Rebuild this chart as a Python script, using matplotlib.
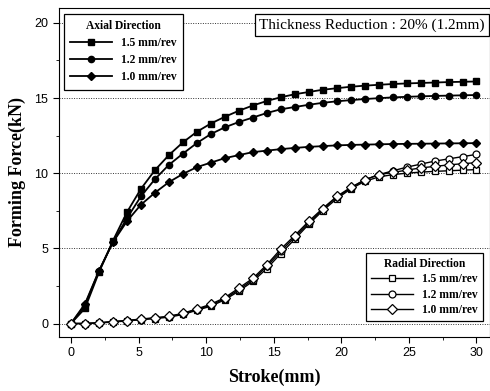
import matplotlib
matplotlib.use("Agg")
import matplotlib.pyplot as plt
from matplotlib.ticker import MultipleLocator

# stroke positions (mm), 30 samples over 0..30
stroke = [0.0, 1.03, 2.07, 3.10, 4.14, 5.17, 6.21, 7.24, 8.28, 9.31,
          10.34, 11.38, 12.41, 13.45, 14.48, 15.52, 16.55, 17.59, 18.62, 19.66,
          20.69, 21.72, 22.76, 23.79, 24.83, 25.86, 26.90, 27.93, 28.97, 30.0]

# axial direction forces (kN)
axial_15 = [0, 1.0, 3.4, 5.5, 7.4, 8.95, 10.2, 11.2, 12.05, 12.75,
            13.3, 13.75, 14.15, 14.5, 14.8, 15.05, 15.25, 15.4, 15.55, 15.65,
            15.75, 15.82, 15.88, 15.93, 15.97, 16.0, 16.03, 16.06, 16.08, 16.1]
axial_12 = [0, 1.2, 3.5, 5.4, 7.0, 8.45, 9.6, 10.55, 11.3, 12.0,
            12.6, 13.05, 13.4, 13.7, 14.0, 14.25, 14.4, 14.55, 14.68, 14.78,
            14.86, 14.93, 14.99, 15.04, 15.08, 15.11, 15.14, 15.16, 15.18, 15.2]
axial_10 = [0, 1.3, 3.5, 5.4, 6.8, 7.9, 8.7, 9.4, 9.95, 10.4,
            10.7, 11.0, 11.2, 11.4, 11.5, 11.6, 11.68, 11.75, 11.8, 11.85,
            11.88, 11.9, 11.92, 11.94, 11.95, 11.96, 11.97, 11.98, 11.99, 12.0]

# radial direction forces (kN)
radial_15 = [0, 0, 0.03, 0.1, 0.17, 0.25, 0.33, 0.42, 0.6, 0.88,
             1.15, 1.58, 2.15, 2.8, 3.65, 4.65, 5.6, 6.6, 7.5, 8.3,
             8.95, 9.45, 9.75, 9.9, 10.0, 10.07, 10.12, 10.16, 10.2, 10.24]
radial_12 = [0, 0, 0.04, 0.12, 0.19, 0.28, 0.36, 0.46, 0.65, 0.93,
             1.22, 1.65, 2.25, 2.9, 3.8, 4.8, 5.75, 6.7, 7.6, 8.4,
             9.0, 9.55, 9.9, 10.15, 10.4, 10.6, 10.8, 10.95, 11.1, 11.25]
radial_10 = [0, 0, 0.05, 0.13, 0.2, 0.3, 0.38, 0.48, 0.68, 0.97,
             1.28, 1.72, 2.35, 3.0, 3.9, 4.95, 5.85, 6.8, 7.65, 8.45,
             9.05, 9.55, 9.9, 10.05, 10.2, 10.35, 10.45, 10.55, 10.63, 10.7]

feeds = ["1.5 mm/rev", "1.2 mm/rev", "1.0 mm/rev"]

serif = ["Liberation Serif", "DejaVu Serif"]
sans = ["Liberation Sans", "DejaVu Sans"]

fig = plt.figure(figsize=(4.9, 3.91), dpi=100)
ax = fig.add_axes([0.12, 0.138, 0.88, 0.842])

# axial curves: filled markers
ax_lines = []
for vals, mk in zip([axial_15, axial_12, axial_10], ["s", "o", "D"]):
    l, = ax.plot(stroke, vals, color="black", lw=1.3, marker=mk, ms=4.5,
                 mfc="black", mec="black")
    ax_lines.append(l)

# radial curves: open markers
rad_lines = []
for vals, mk, ms in zip([radial_15, radial_12, radial_10], ["s", "o", "D"], [4.5, 5, 4.6]):
    l, = ax.plot(stroke, vals, color="black", lw=1.0, marker=mk, ms=ms,
                 mfc="white", mec="black", mew=0.9)
    rad_lines.append(l)

ax.set_xlim(-0.9, 31)
ax.set_ylim(-0.9, 21)
ax.xaxis.set_major_locator(MultipleLocator(5))
ax.xaxis.set_minor_locator(MultipleLocator(2.5))
ax.yaxis.set_major_locator(MultipleLocator(5))
ax.yaxis.set_minor_locator(MultipleLocator(2.5))
ax.tick_params(which="both", direction="out", top=False, right=False)
ax.tick_params(which="major", length=4, labelsize=9)
ax.tick_params(which="minor", length=2.5)
for lab in ax.get_xticklabels() + ax.get_yticklabels():
    lab.set_family(sans)

ax.yaxis.grid(True, which="major", linestyle=(0, (1, 1.5)), color="#333333", lw=0.7)
ax.set_axisbelow(True)

ax.set_xlabel("Stroke(mm)", family=serif, fontweight="bold", fontsize=13, labelpad=7)
ax.set_ylabel("Forming Force(kN)", family=serif, fontweight="bold", fontsize=13, labelpad=6)

leg_font = {"family": serif, "weight": "bold", "size": 8.3}
leg1 = ax.legend(ax_lines, feeds, title="Axial Direction", loc="upper left",
                 bbox_to_anchor=(-0.002, 1.0), prop=leg_font,
                 title_fontproperties=leg_font, fancybox=False, framealpha=1,
                 edgecolor="black", handlelength=3.6, labelspacing=0.45,
                 borderpad=0.55)
leg1.get_frame().set_linewidth(0.9)
ax.add_artist(leg1)

leg2 = ax.legend(rad_lines, feeds, title="Radial Direction", loc="lower right",
                 bbox_to_anchor=(0.997, 0.03), prop=leg_font,
                 title_fontproperties=leg_font, fancybox=False, framealpha=1,
                 edgecolor="black", handlelength=3.6, labelspacing=0.3,
                 borderpad=0.45)
leg2.get_frame().set_linewidth(0.9)

ax.text(0.988, 0.968, "Thickness Reduction : 20% (1.2mm)", transform=ax.transAxes,
        ha="right", va="top", family=serif, fontsize=11,
        bbox=dict(boxstyle="square,pad=0.3", fc="white", ec="black", lw=0.9))

fig.savefig("out.png", dpi=100)
